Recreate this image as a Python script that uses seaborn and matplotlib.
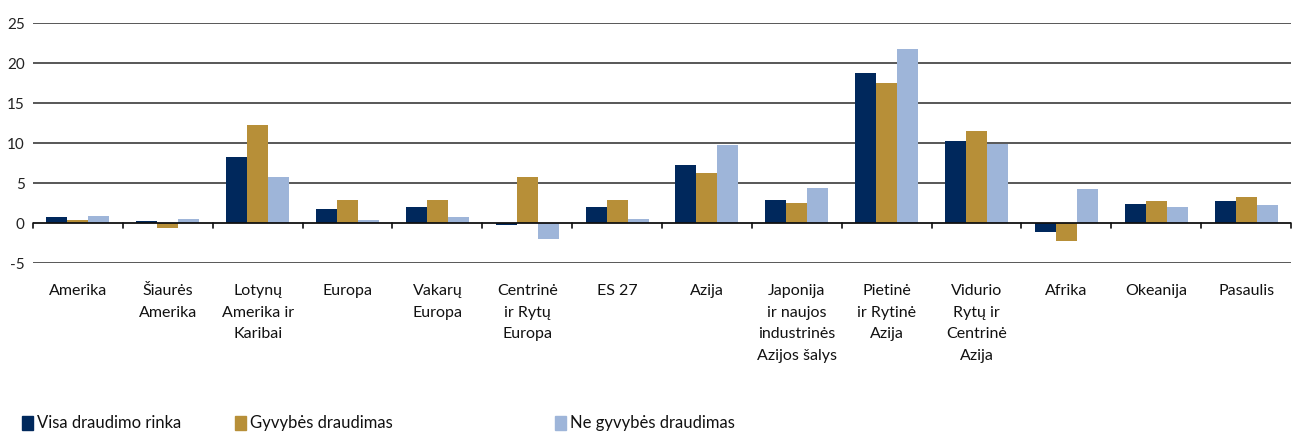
import matplotlib
matplotlib.use("Agg")
import matplotlib.pyplot as plt
import matplotlib.patches as mpatches
import pandas as pd
import seaborn as sns

categories = [
    "Amerika", "Šiaurės\nAmerika", "Lotynų\nAmerika ir\nKaribai", "Europa",
    "Vakarų\nEuropa", "Centrinė\nir Rytų\nEuropa", "ES 27", "Azija",
    "Japonija\nir naujos\nindustrinės\nAzijos šalys", "Pietinė\nir Rytinė\nAzija",
    "Vidurio\nRytų ir\nCentrinė\nAzija", "Afrika", "Okeanija", "Pasaulis",
]
series = ["Visa draudimo rinka", "Gyvybės draudimas", "Ne gyvybės draudimas"]
visa = [0.8, 0.2, 8.3, 1.8, 2.0, -0.3, 2.0, 7.3, 2.9, 18.8, 10.2, -1.1, 2.4, 2.8]
gyvybes = [0.4, -0.6, 12.3, 2.9, 2.9, 5.8, 2.9, 6.3, 2.5, 17.5, 11.5, -2.3, 2.8, 3.3]
ne_gyvybes = [0.9, 0.5, 5.7, 0.4, 0.8, -2.0, 0.5, 9.8, 4.4, 21.8, 9.9, 4.2, 2.0, 2.2]
colors = ["#00285C", "#B78F38", "#9EB5D9"]
y_ticks = [-5, 0, 5, 10, 15, 20, 25]

df = pd.DataFrame({"region": categories * 3,
                   "series": [s for s in series for _ in categories],
                   "value": visa + gyvybes + ne_gyvybes})

sns.set_style("white")
plt.rcParams["font.family"] = ["Lato", "DejaVu Sans"]

fig = plt.figure(figsize=(12.93, 4.34), dpi=100)
ax = fig.add_axes([0.0255, 0.394, 0.973, 0.553])

sns.barplot(data=df, x="region", y="value", hue="series", palette=colors,
            width=0.7, gap=0, saturation=1, errorbar=None, legend=False, ax=ax,
            linewidth=0, zorder=3)

ax.set_ylim(-5, 25)
ax.set_xlim(-0.5, len(categories) - 0.5)
ax.set_yticks(y_ticks)
ax.set_yticklabels([str(t) for t in y_ticks], fontsize=11, color="#222222")
for t in y_ticks:
    if t != 0:
        ax.axhline(t, color="#2a2a2a", lw=1.1, zorder=1)
ax.axhline(0, color="#111111", lw=1.3, zorder=4)
# separator ticks under the zero line
for i in range(len(categories) + 1):
    ax.plot([i - 0.5, i - 0.5], [0, -0.6], color="#111111", lw=1.2, zorder=4,
            clip_on=False)

for s in ax.spines.values():
    s.set_visible(False)
ax.tick_params(axis="y", length=0, pad=6)
ax.tick_params(axis="x", length=0, pad=15)
ax.set_xticks(range(len(categories)))
ax.set_xticklabels(categories, fontsize=11.5, linespacing=1.7, va="top",
                   color="#111111")
ax.set_xlabel("")
ax.set_ylabel("")

# legend entries positioned individually
leg_x = [22, 235, 555]
for x, name, c in zip(leg_x, series, colors):
    fig.patches.append(mpatches.Rectangle((x / 1293, 1 - 430 / 434), 11 / 1293, 14 / 434,
                                          transform=fig.transFigure, color=c,
                                          figure=fig))
    fig.text((x + 15) / 1293, 1 - 423 / 434, name, fontsize=12, va="center",
             ha="left", color="#111111")

fig.savefig("out.png", dpi=100)
